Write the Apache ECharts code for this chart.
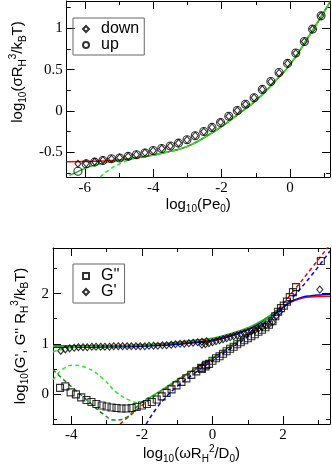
<!DOCTYPE html>
<html style="height: 100%">
<head>
  <meta charset="utf-8">
</head>
<body style="height: 100%; margin: 0; background: #fff">
  <div id="container" style="width: 332px; height: 469px"></div>
  <script type="text/javascript" src="https://cdn.jsdelivr.net/npm/echarts@6/dist/echarts.min.js"></script>
  <script type="text/javascript">
    // ---- top panel data: log10(Pe0) vs log10(sigma R^3/kT) ----
    var peX = [-6.2, -5.96, -5.71, -5.47, -5.22, -4.98, -4.73, -4.49, -4.24, -4.0, -3.75, -3.5, -3.26, -3.01, -2.77,
      -2.52, -2.28, -2.03, -1.79, -1.54, -1.3, -1.05, -0.81, -0.56, -0.32, -0.07, 0.17, 0.42, 0.66, 0.91];
    var upY = [-0.73, -0.64, -0.62, -0.60, -0.58, -0.57, -0.55, -0.53, -0.51, -0.48, -0.455, -0.425, -0.39, -0.35, -0.30,
      -0.25, -0.20, -0.14, -0.065, 0.005, 0.08, 0.16, 0.26, 0.355, 0.465, 0.575, 0.70, 0.84, 0.99, 1.15];
    var downY = [-0.64, -0.635, -0.615, -0.595, -0.58, -0.565, -0.55, -0.53, -0.505, -0.48, -0.455, -0.425, -0.39, -0.35, -0.30,
      -0.25, -0.20, -0.135, -0.065, 0.005, 0.08, 0.16, 0.26, 0.355, 0.46, 0.575, 0.70, 0.84, 0.99, 1.15];

    var topFitTail = [[-3.5, -0.49], [-3.0, -0.43], [-2.5, -0.32], [-2.0, -0.19], [-1.5, -0.035], [-1.0, 0.125],
      [-0.5, 0.33], [0, 0.56], [0.5, 0.87], [1.0, 1.2], [1.17, 1.32]];
    var topRed = [[-6.53, -0.615], [-6, -0.613], [-5.5, -0.607], [-5.0, -0.593], [-4.5, -0.568], [-4.0, -0.535]].concat(topFitTail);
    var topGreen = [[-6.45, -0.78], [-6.2, -0.735], [-5.9, -0.68], [-5.5, -0.635], [-5.0, -0.6], [-4.5, -0.57], [-4.0, -0.535]].concat(topFitTail);
    var topGreenDash = [[-5.55, -0.8], [-5.3, -0.715], [-4.95, -0.635], [-4.6, -0.58], [-4.3, -0.555], [-4.0, -0.535]].concat(topFitTail);

    // ---- bottom panel data: log10(omega R^2/D0) vs log10(G', G'') ----
    var gpLowX = [-4.3, -4.17, -4.05, -3.92, -3.8, -3.67, -3.55, -3.42, -3.3, -3.17, -3.05, -2.92, -2.8, -2.67, -2.55,
      -2.42, -2.3, -2.17, -2.05, -1.92, -1.8, -1.67, -1.55, -1.42, -1.3, -1.17, -1.05, -0.92, -0.8, -0.67, -0.55, -0.42, -0.3, -0.17];
    var gpLowY = [0.86, 0.89, 0.91, 0.92, 0.93, 0.93, 0.93, 0.94, 0.94, 0.94, 0.94, 0.94, 0.95, 0.95, 0.95,
      0.95, 0.95, 0.95, 0.95, 0.95, 0.96, 0.96, 0.96, 0.97, 0.97, 0.98, 0.99, 1.0, 1.0, 1.01, 1.02, 1.03, 1.04, 1.05];
    var gpHighX = [-0.3, -0.2, -0.1, 0, 0.1, 0.2, 0.3, 0.4, 0.5, 0.6, 0.7, 0.8, 0.9, 1.0, 1.1, 1.2, 1.3, 1.4, 1.5, 1.6, 1.7, 1.8, 1.9, 3.04];
    var gpHighY = [0.98, 0.99, 1.01, 1.03, 1.05, 1.07, 1.09, 1.11, 1.13, 1.15, 1.17, 1.19, 1.21, 1.23, 1.25, 1.27, 1.3, 1.33, 1.36, 1.39, 1.43, 1.55, 1.64, 2.08];

    var gppLowX = [-4.32, -4.17, -4.02, -3.87, -3.72, -3.57, -3.43, -3.29, -3.14, -3.0, -2.86, -2.72, -2.58, -2.44, -2.29,
      -2.15, -2.0, -1.86, -1.72, -1.58, -1.44, -1.3, -1.16, -1.02, -0.88, -0.74, -0.6, -0.46, -0.32, -0.18];
    var gppLowY = [0.12, 0.15, 0.03, -0.01, -0.07, -0.12, -0.16, -0.2, -0.23, -0.25, -0.27, -0.28, -0.29, -0.29, -0.28,
      -0.26, -0.23, -0.2, -0.16, -0.11, -0.05, 0.02, 0.09, 0.17, 0.24, 0.31, 0.38, 0.45, 0.52, 0.58];
    var gppHighX = [-0.3, -0.2, -0.1, 0, 0.1, 0.2, 0.3, 0.4, 0.5, 0.6, 0.7, 0.8, 0.9, 1.0, 1.1, 1.2, 1.3, 1.4, 1.5, 1.6, 1.7,
      1.78, 1.86, 1.94, 2.02, 2.11, 2.19, 2.28, 2.37, 3.07];
    var gppHighY = [0.5, 0.55, 0.6, 0.66, 0.71, 0.75, 0.8, 0.85, 0.9, 0.94, 0.99, 1.03, 1.07, 1.11, 1.15, 1.19, 1.24, 1.28, 1.33, 1.38, 1.45,
      1.55, 1.64, 1.71, 1.76, 1.84, 1.93, 2.03, 2.13, 2.65];

    var gpRed = [[-4.52, 0.96], [-3.5, 0.96], [-2.5, 0.965], [-2, 0.975], [-1.5, 0.99], [-1, 1.01], [-0.5, 1.04], [0, 1.08],
      [0.5, 1.17], [1, 1.3], [1.4, 1.44], [1.86, 1.66], [2.2, 1.82], [2.5, 1.9], [2.8, 1.935], [3.1, 1.945], [3.33, 1.95]];
    var gpBlue = [[-4.52, 0.93], [-3.5, 0.933], [-2.5, 0.94], [-2, 0.95], [-1.5, 0.965], [-1, 0.99], [-0.5, 1.02], [0, 1.06],
      [0.5, 1.15], [1, 1.28], [1.4, 1.43], [1.86, 1.65], [2.2, 1.83], [2.5, 1.92], [2.8, 1.96], [3.1, 1.98], [3.33, 1.99]];
    var gpGreen = [[-4.52, 0.95], [-3.5, 0.952], [-2.5, 0.96], [-2, 0.975], [-1.5, 1.0], [-1, 1.03], [-0.5, 1.07], [0, 1.11],
      [0.5, 1.2], [1, 1.32], [1.4, 1.46], [1.86, 1.68]];
    var gpGreenDash = [[-4.52, 0.84], [-4.2, 0.895], [-3.9, 0.93], [-3.6, 0.945], [-3.3, 0.95]];

    var gppRed = [[-2.62, -0.6], [-2.2, -0.35], [-1.8, -0.12], [-1.4, 0.07], [-1, 0.26], [-0.5, 0.48], [0, 0.7], [0.5, 0.93],
      [1, 1.17], [1.4, 1.4], [1.86, 1.69], [2.3, 2.06], [2.8, 2.5], [3.33, 2.98]];
    var gppBlue = [[-1.88, -0.6], [-1.6, -0.3], [-1.3, -0.05], [-1, 0.15], [-0.5, 0.42], [0, 0.66], [0.5, 0.9], [1, 1.14],
      [1.4, 1.37], [1.86, 1.62], [2.3, 1.95], [2.8, 2.36], [3.33, 2.85]];
    var gppGreen = [[-2.0, -0.17], [-1.5, 0.05], [-1, 0.28], [-0.5, 0.5], [0, 0.72], [0.5, 0.95], [1, 1.19], [1.4, 1.41], [1.86, 1.69]];
    var gppGreenHump = [[-4.52, 0.28], [-4.23, 0.5], [-3.95, 0.57], [-3.57, 0.52], [-3.1, 0.3], [-2.72, 0.03], [-2.34, -0.13],
      [-2.11, -0.17], [-1.78, -0.1], [-1.5, 0.04]];
    var gppGreenDip = [[-4.52, 0.48], [-4.04, 0.17], [-3.48, -0.17], [-3.1, -0.4], [-2.77, -0.52], [-2.44, -0.47], [-2.2, -0.3],
      [-2.01, -0.17], [-1.8, -0.07]];

    // tick positions
    var topXMajor = [-6, -4, -2, 0], topXMinor = [-5, -3, -1, 1];
    var topYMajor = [-0.5, 0, 0.5, 1], topYMinor = [-0.75, -0.25, 0.25, 0.75, 1.25];
    var botXMajor = [-4, -2, 0, 2], botXMinor = [-3, -1, 1, 3];
    var botYMajor = [0, 1, 2], botYMinor = [-0.5, 0.5, 1.5, 2.5];

    function zip(xs, ys) {
      return xs.map(function (x, i) { return [x, ys[i]]; });
    }

    var RED = '#ff0000', BLUE = '#0000ff', GREEN = '#22b422', LGREEN = '#22ee22', DGREEN = '#119011';
    var serif = 'Liberation Serif', sans = 'Liberation Sans';

    var rich = {
      m: { fontFamily: sans, fontSize: 15, color: '#000', lineHeight: 20 },
      s: { fontFamily: sans, fontSize: 10, color: '#000', verticalAlign: 'bottom', lineHeight: 12 },
      p: { fontFamily: sans, fontSize: 10, color: '#000', verticalAlign: 'top', lineHeight: 12 }
    };

    function axesFor(dim, grid, min, max, major, minor, name, gap, namePad) {
      var isX = dim === 'x';
      var sides = isX ? ['bottom', 'top'] : ['left', 'right'];
      var out = [];
      sides.forEach(function (side, si) {
        [major, minor].forEach(function (vals, ti) {
          var a = {
            type: 'value', gridIndex: grid, position: side, min: min, max: max,
            splitLine: { show: false },
            axisLine: { show: ti === 0, onZero: false, lineStyle: { color: '#000', width: 1 } },
            axisTick: { show: true, inside: true, length: ti === 0 ? 8 : 4, customValues: vals,
              lineStyle: { color: '#000', width: 1 } },
            axisLabel: { show: false }
          };
          if (si === 0 && ti === 0) {
            a.axisLabel = { show: true, customValues: major, fontFamily: serif, fontSize: 15, color: '#000', margin: 4 };
            a.name = name;
            a.nameLocation = 'middle';
            a.nameGap = gap;
            a.nameTextStyle = { rich: rich, padding: namePad || 0 };
          }
          out.push(a);
        });
      });
      return out;
    }

    var xAxes = axesFor('x', 0, -6.53, 1.17, topXMajor, topXMinor,
      '{m|log}{s|10}{m|(Pe}{s|0}{m|)}', 16)
      .concat(axesFor('x', 1, -4.52, 3.33, botXMajor, botXMinor,
        '{m|log}{s|10}{m|(ωR}{s|H}{p|2}{m|/D}{s|0}{m|)}', 19));
    var yAxes = axesFor('y', 0, -0.8, 1.33, topYMajor, topYMinor,
      '{m|log}{s|10}{m|(σR}{s|H}{p|3}{m|/k}{s|B}{m|T)}', 25, [0, 0, 0, 34])
      .concat(axesFor('y', 1, -0.6, 2.91, botYMajor, botYMinor,
        '{m|log}{s|10}{m|(G\', G\'\' R}{s|H}{p|3}{m|/k}{s|B}{m|T)}', 16));

    function fit(data, color, grid, dashed) {
      return {
        type: 'line', xAxisIndex: grid * 4, yAxisIndex: grid * 4, data: data, smooth: true,
        showSymbol: false, silent: true, z: 2,
        lineStyle: { color: color, width: 1.5, type: dashed ? [4, 3] : 'solid' }
      };
    }

    function pts(name, data, symbol, size, grid) {
      return {
        name: name, type: 'scatter', xAxisIndex: grid * 4, yAxisIndex: grid * 4, data: data,
        symbol: symbol, symbolSize: size, z: 3,
        itemStyle: { color: 'transparent', borderColor: '#000', borderWidth: 1.1 }
      };
    }

    function legendBox(names, top, pad) {
      return {
        data: names, left: 73, top: top, orient: 'vertical', itemWidth: 6, itemHeight: 6, itemGap: 0,
        padding: pad, borderColor: '#666', borderWidth: 1,
        textStyle: { fontFamily: sans, fontSize: 16, color: '#000', lineHeight: 16, padding: [0, 0, 0, 7] }
      };
    }

    var option = {
      animation: false,
      backgroundColor: '#fff',
      grid: [
        { left: 53, top: 1, width: 277, height: 176 },
        { left: 53, top: 248, width: 277, height: 176 }
      ],
      legend: [
        legendBox(['down', 'up'], 18, [3, 5, 2, 9]),
        legendBox(['G\'\'', 'G\''], 264, [4, 5, 3, 9])
      ],
      xAxis: xAxes,
      yAxis: yAxes,
      series: [
        fit(topRed, RED, 0, false),
        fit(topGreen, GREEN, 0, false),
        fit(topGreenDash, LGREEN, 0, true),
        pts('down', zip(peX, downY), 'diamond', [6, 7], 0),
        pts('up', zip(peX, upY), 'circle', 8, 0),

        fit(gpRed, RED, 1, false),
        fit(gpBlue, BLUE, 1, false),
        fit(gpGreen, GREEN, 1, false),
        fit(gpGreenDash, LGREEN, 1, true),
        fit(gppRed, RED, 1, true),
        fit(gppBlue, BLUE, 1, true),
        fit(gppGreen, GREEN, 1, false),
        fit(gppGreenHump, LGREEN, 1, true),
        fit(gppGreenDip, DGREEN, 1, true),
        pts('G\'\'', zip(gppLowX, gppLowY).concat(zip(gppHighX, gppHighY)), 'rect', 7, 1),
        pts('G\'', zip(gpLowX, gpLowY).concat(zip(gpHighX, gpHighY)), 'diamond', [6, 7], 1)
      ]
    };

    var myChart = echarts.init(document.getElementById('container'));
    myChart.setOption(option);
  </script>
</body>
</html>
